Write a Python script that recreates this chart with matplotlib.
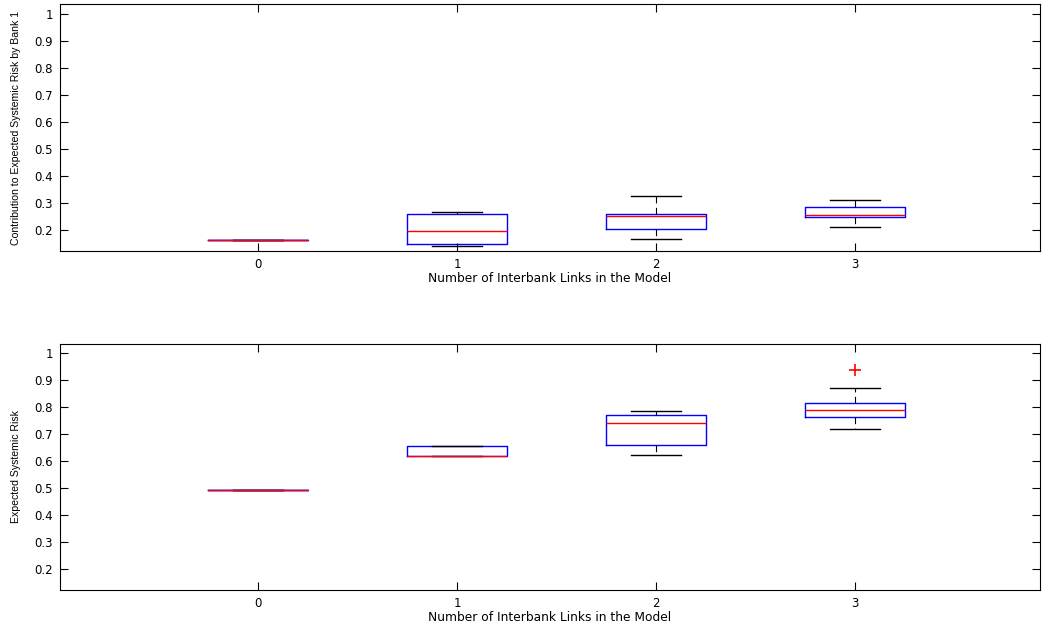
import matplotlib
matplotlib.use("Agg")
import matplotlib.pyplot as plt
from matplotlib import font_manager

plt.rcParams['font.family'] = ['DejaVu Sans']

installed = {f.name for f in font_manager.fontManager.ttflist}
narrow = 'Liberation Sans Narrow' if 'Liberation Sans Narrow' in installed else 'Liberation Sans'

categories = [0, 1, 2, 3]
tick_labels = ['0', '1', '2', '3']
yticks = [0.2, 0.3, 0.4, 0.5, 0.6, 0.7, 0.8, 0.9, 1.0]
ytick_labels = ['0.2', '0.3', '0.4', '0.5', '0.6', '0.7', '0.8', '0.9', '1']

# Top panel: contribution by Bank 1
top_whislo = [0.163, 0.140, 0.168, 0.210]
top_q1 = [0.163, 0.148, 0.203, 0.247]
top_med = [0.163, 0.198, 0.251, 0.254]
top_q3 = [0.163, 0.258, 0.259, 0.286]
top_whishi = [0.163, 0.266, 0.326, 0.310]
top_fliers = [[], [], [], []]

# Bottom panel: expected systemic risk
bot_whislo = [0.493, 0.619, 0.621, 0.719]
bot_q1 = [0.493, 0.619, 0.660, 0.762]
bot_med = [0.493, 0.619, 0.741, 0.790]
bot_q3 = [0.493, 0.657, 0.769, 0.816]
bot_whishi = [0.493, 0.657, 0.784, 0.869]
bot_fliers = [[], [], [], [0.937]]

xlabel = 'Number of Interbank Links in the Model'
ylabels = ['Contribution to Expected Systemic Risk by Bank 1', 'Expected Systemic Risk']


def make_stats(wl, q1, med, q3, wh, fl):
    return [dict(whislo=a, q1=b, med=c, q3=d, whishi=e, fliers=f)
            for a, b, c, d, e, f in zip(wl, q1, med, q3, wh, fl)]


fig = plt.figure(figsize=(10.46, 6.26), dpi=100)
ax1 = fig.add_axes([0.0574, 0.599, 0.9369, 0.3946])
ax2 = fig.add_axes([0.0574, 0.0575, 0.9369, 0.3930])

panels = [
    (ax1, make_stats(top_whislo, top_q1, top_med, top_q3, top_whishi, top_fliers), ylabels[0], 0.122, 1.037),
    (ax2, make_stats(bot_whislo, bot_q1, bot_med, bot_q3, bot_whishi, bot_fliers), ylabels[1], 0.122, 1.033),
]

for ax, stats, ylab, ylo, yhi in panels:
    ax.bxp(stats, positions=categories, widths=0.5, capwidths=0.25,
           boxprops=dict(color='#0000ff', linewidth=1.0),
           medianprops=dict(color='#ff0000', linewidth=1.0),
           whiskerprops=dict(color='black', linestyle=(0, (6, 4)), linewidth=0.8),
           capprops=dict(color='black', linewidth=1.0),
           flierprops=dict(marker='+', markeredgecolor='#ff0000', markersize=9, markeredgewidth=1.2))
    ax.set_xlim(-0.995, 3.93)
    ax.set_ylim(ylo, yhi)
    ax.set_xticks(categories)
    ax.set_xticklabels(tick_labels)
    ax.set_yticks(yticks)
    ax.set_yticklabels(ytick_labels)
    ax.tick_params(direction='in', top=True, right=True, labelsize=8.5, length=6, width=0.8, pad=5)
    ax.set_xlabel(xlabel, fontsize=8.8, labelpad=1)
    ax.set_ylabel(ylab, fontsize=7.6, family=narrow, labelpad=10)
    for s in ax.spines.values():
        s.set_linewidth(0.8)

fig.savefig('out.png', dpi=100)
